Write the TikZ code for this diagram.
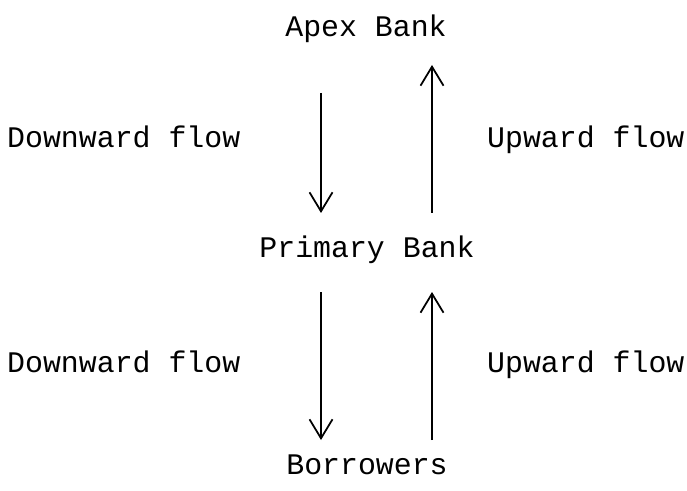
\documentclass[tikz,border=0pt]{standalone}
\usepackage{fontspec}
\setmonofont{Liberation Mono}
\usetikzlibrary{arrows.meta}

\begin{document}
\begin{tikzpicture}[font=\ttfamily\fontsize{17}{20}\selectfont, every node/.style={text height=1.6ex, text depth=0.4ex}, flow/.style={draw, line width=1pt, -{Straight Barb[length=0.38cm, width=0.46cm]}}]

\useasboundingbox (0,0) rectangle (13.74,-9.82);

% Bancos
\node (apex) at (7.32,-0.64) {Apex Bank};
\node (primary) at (7.34,-5.06) {Primary Bank};
\node (borrowers) at (7.34,-9.40) {Borrowers};

% Pontas das setas
\coordinate (d1s) at (6.42,-1.86);
\coordinate (d1e) at (6.42,-4.26);
\coordinate (u1s) at (8.64,-4.26);
\coordinate (u1e) at (8.64,-1.30);
\coordinate (d2s) at (6.42,-5.84);
\coordinate (d2e) at (6.42,-8.80);
\coordinate (u2s) at (8.64,-8.80);
\coordinate (u2e) at (8.64,-5.84);

% Setas entre Apex e Primary
\path[flow] (d1s) -- (d1e);
\path[flow] (u1s) -- (u1e);
\node (down1) [anchor=west] at (0.02,-2.86) {Downward flow};
\node (up1) [anchor=west] at (9.62,-2.86) {Upward flow};

% Setas entre Primary e Borrowers
\path[flow] (d2s) -- (d2e);
\path[flow] (u2s) -- (u2e);
\node (down2) [anchor=west] at (0.02,-7.36) {Downward flow};
\node (up2) [anchor=west] at (9.62,-7.36) {Upward flow};

\end{tikzpicture}
\end{document}
